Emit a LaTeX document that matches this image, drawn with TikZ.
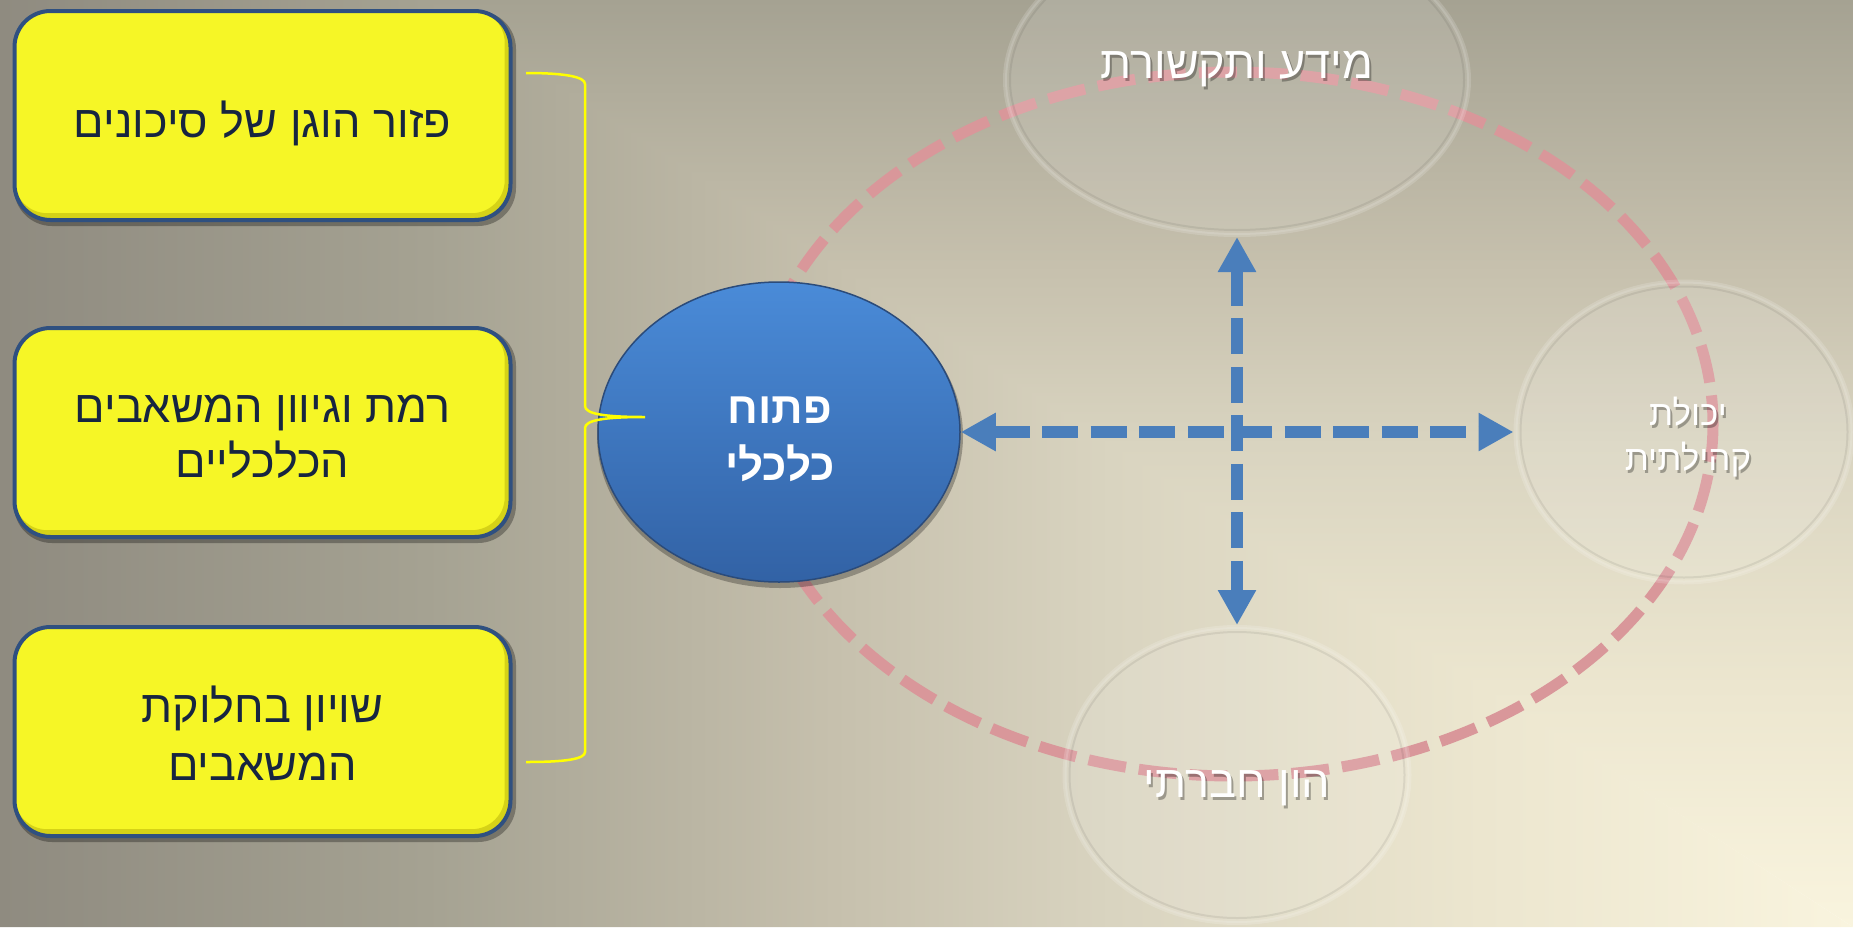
\documentclass[tikz,border=0pt]{standalone}
\usepackage{fontspec}
\setmainfont{Liberation Sans}
\newfontfamily\hebfont[Script=Hebrew]{Liberation Sans}
\TeXXeTstate=1
\usetikzlibrary{shapes.geometric,arrows.meta}

\definecolor{boxyellow}{HTML}{F6F626}
\definecolor{boxbevel}{HTML}{C8C412}
\definecolor{boxrim}{HTML}{2F5080}
\definecolor{boxink}{HTML}{172540}
\definecolor{econtop}{HTML}{4A8BD8}
\definecolor{econbot}{HTML}{3262A5}
\definecolor{econrim}{HTML}{2B4B7A}
\definecolor{arrowblue}{HTML}{4A7EBB}
\definecolor{ringpink}{HTML}{D9979A}
\definecolor{bracey}{HTML}{FFFF00}
%% background stops, dark (far) to light (lower right corner)
\definecolor{bgA}{HTML}{8F8B80}
\definecolor{bgB}{HTML}{A5A292}
\definecolor{bgC}{HTML}{C6C0AD}
\definecolor{bgD}{HTML}{D9D4C0}
\definecolor{bgE}{HTML}{ECE6CF}
\definecolor{bgF}{HTML}{F9F4DE}
\pgfdeclarehorizontalshading{bghoriz}{100bp}{color(0bp)=(bgA); color(25bp)=(bgA);
  color(36.5bp)=(bgB); color(47.5bp)=(bgC); color(55bp)=(bgD); color(65bp)=(bgE);
  color(75bp)=(bgF); color(100bp)=(bgF)}
\pgfdeclareverticalshading{bgvert}{100bp}{color(0bp)=(bgF); color(25bp)=(bgF);
  color(38bp)=(bgE); color(51bp)=(bgD); color(60.75bp)=(bgC); color(75bp)=(bgB);
  color(100bp)=(bgB)}

\begin{document}
\begin{tikzpicture}[x=1pt,y=-1pt,
    boxfill/.style={fill=boxyellow,rounded corners=36pt,
      minimum width=496pt,minimum height=209pt,inner sep=0pt},
    box/.style={draw=boxrim,line width=4pt,rounded corners=36pt,
      minimum width=496pt,minimum height=209pt,inner sep=0pt},
    bevel/.style={draw=boxbevel,draw opacity=.7,line width=6pt,rounded corners=36pt},
    boxshadow/.style={fill=black,fill opacity=.3,rounded corners=38pt,
      minimum width=502pt,minimum height=215pt,inner sep=0pt},
    boxtext/.style={text=boxink,font=\hebfont\fontsize{45}{56}\selectfont,inner sep=0pt},
    glass/.style={ellipse,inner sep=0pt,fill=white,fill opacity=.12,draw=white,
      draw opacity=.16,line width=4pt},
    glassrim/.style={ellipse,inner sep=0pt,draw=black,draw opacity=.07,line width=2pt},
    gtext/.style={text=white,font=\hebfont\fontsize{45}{45}\selectfont,inner sep=0pt},
    gsmall/.style={gtext,font=\hebfont\fontsize{35}{45}\selectfont},
    gshade/.style={text=black,text opacity=.3},
    econ/.style={ellipse,inner sep=0pt,minimum width=362pt,minimum height=300pt,
      top color=econtop,bottom color=econbot,draw=econrim,line width=1.5pt},
    econshadow/.style={ellipse,inner sep=0pt,minimum width=366pt,minimum height=304pt,
      fill=black,fill opacity=.28},
    etext/.style={text=white,font=\hebfont\bfseries\fontsize{44}{57}\selectfont,inner sep=0pt},
    link/.style={arrowblue,line width=11.5pt,dash pattern=on 36pt off 12.5pt,
      {Triangle[length=35pt,width=36pt]}-{Triangle[length=35pt,width=36pt]}},
    ring/.style={ringpink,line width=11pt,dash pattern=on 38pt off 13pt},
    brace/.style={bracey,line width=2.5pt}
  ]

  %% Page frame
  \useasboundingbox (0,0) rectangle (1853,927);
  \clip (0,0) rectangle (1853,927);

  %% Background, lighter towards the lower right corner
  \begin{scope}
    \clip (0,0) -- (430,0) -- (1853,927) -- (0,927) -- cycle;
    \shade[shading=bghoriz] (0,0) rectangle (1853,927);
  \end{scope}
  \begin{scope}
    \clip (426,0) -- (1853,0) -- (1853,927) -- cycle;
    \shade[shading=bgvert] (0,0) rectangle (1853,927);
  \end{scope}

  %% Dashed ring behind everything
  \draw[ring] (1233,424) ellipse [x radius=480, y radius=352];

  %% Glass ellipses
  \foreach \n/\x/\y/\w/\h in {info/1237/80/464/310,community/1684/432/337/301,capital/1237/775/345/296}{
    \node[glass,minimum width=\w pt,minimum height=\h pt] (\n) at (\x,\y) {};
    \node[glassrim,minimum width=\w pt-10pt,minimum height=\h pt-10pt] (\n-rim) at (\x,\y) {};
  }

  %% Central ellipse
  \node[econshadow] (econ-shadow) at (780,436) {};
  \node[econ] (econ) at (779,432) {};

  %% Dashed double arrows
  \draw[link] (econ.east) -- (community.west);
  \draw[link] (info.south) -- (capital.north);

  %% Texts of the ellipses
  \foreach \n/\x/\y/\txt in {info-t/1237/78/{מידע ותקשורת},capital-t/1237/797/{הון חברתי}}{
    \node[gtext,gshade,anchor=base] (\n-s) at (\x+2,\y+3) {\beginR\txt\endR};
    \node[gtext,anchor=base] (\n) at (\x,\y) {\beginR\txt\endR};
  }
  \foreach \n/\y/\txt in {community-a/425/{יכולת},community-b/470/{קהילתית}}{
    \node[gsmall,gshade,anchor=base] (\n-s) at (1690,\y+3) {\beginR\txt\endR};
    \node[gsmall,anchor=base] (\n) at (1688,\y) {\beginR\txt\endR};
  }
  \foreach \n/\y/\txt in {econ-a/423/{פתוח},econ-b/480/{כלכלי}}{
    \node[etext,anchor=base] (\n) at (780,\y) {\beginR\txt\endR};
  }

  %% Yellow boxes
  \foreach \n/\y in {spread/115.5,variety/432.5,equity/731.5}{
    \node[boxshadow] (\n-shadow) at (265,\y+3) {};
    \node[boxfill] (\n-fill) at (262.5,\y) {};
    \begin{scope}
      \clip[rounded corners=36pt] (\n-fill.south west) rectangle (\n-fill.north east);
      \draw[bevel] ([shift={(-3,-4)}]\n-fill.south west) rectangle ([shift={(-3,-4)}]\n-fill.north east);
    \end{scope}
    \node[box] (\n) at (262.5,\y) {};
  }
  \foreach \n/\y/\txt in {spread-a/137/{פזור הוגן של סיכונים},variety-a/422/{רמת וגיוון המשאבים},
      variety-b/477/{הכלכליים},equity-a/722/{שויון בחלוקת},equity-b/780/{המשאבים}}{
    \node[boxtext,anchor=base] (\n) at (262.5,\y) {\beginR\txt\endR};
  }

  %% Brace joining the boxes to the central ellipse
  \coordinate (brace-top) at (526,73);
  \coordinate (brace-tip) at (645,417);
  \coordinate (brace-bot) at (526,762);
  \draw[brace] (brace-top) .. controls (566,73) and (585,77) .. (585,84) -- (585,406)
    .. controls (585,414) and (605,417) .. (brace-tip)
    .. controls (605,417) and (585,420) .. (585,428) -- (585,752)
    .. controls (585,759) and (566,762) .. (brace-bot);

\end{tikzpicture}
\end{document}
